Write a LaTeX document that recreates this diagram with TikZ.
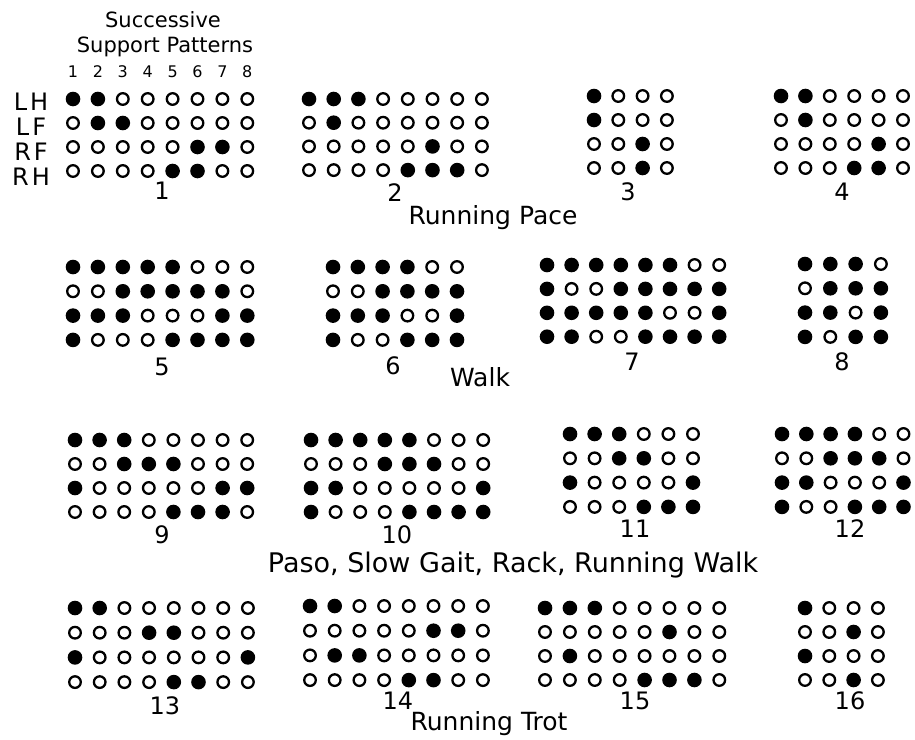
\documentclass[tikz,border=0pt]{standalone}
\usepackage{fontspec}
\setmainfont{DejaVu Sans}
\usetikzlibrary{positioning}

% one block of footfall dots: name, x0, y0, dx, dy, rows (LH,LF,RF,RH)
\newcommand{\gaitpanel}[6]{%
  \foreach \rowbits [count=\r] in {#6} {
    \foreach \b [count=\c] in \rowbits {
      \node[foot\b] (#1-\r-\c) at ({#2+(\c-1)*#4},{#3+(\r-1)*#5}) {};
    }
  }%
}

\begin{document}
\begin{tikzpicture}[
    x=1pt, y=-1pt,
    foot1/.style={circle, fill=black, inner sep=0pt, minimum size=14.6pt},
    foot0/.style={circle, draw=black, line width=2.3pt, inner sep=0pt,
                  minimum size=11.6pt},
    num/.style={font=\fontsize{24}{24}\selectfont, inner sep=0pt},
    colnum/.style={font=\fontsize{16}{16}\selectfont, inner sep=0pt},
    leg/.style={font=\fontsize{24}{24}\selectfont, inner sep=0pt},
    head/.style={font=\fontsize{21}{21}\selectfont, inner sep=0pt},
    gait/.style={font=\fontsize{25}{25}\selectfont, inner sep=0pt},
]
\useasboundingbox (0,0) rectangle (915,739);

% Heading and legend
\node[head] (succ) at (163,20) {Successive};
\node[head] (supp) at (165,47) {Support Patterns};
\foreach \i in {1,...,8}
  \node[colnum] (c\i) at ({73+(\i-1)*24.9},72) {\i};
\node[leg] (lh) at (31,102) {L\kern3pt H};
\node[leg] (lf) at (31,127) {L\kern3pt F};
\node[leg] (rf) at (31,152) {R\kern3pt F};
\node[leg] (rh) at (31,177) {R\kern3pt H};

% Running pace
\gaitpanel{p1}{73}{99}{24.9}{24.0}{{1,1,0,0,0,0,0,0},{0,1,1,0,0,0,0,0},{0,0,0,0,0,1,1,0},{0,0,0,0,1,1,0,0}}
\gaitpanel{p2}{309}{99}{24.7}{23.7}{{1,1,1,0,0,0,0,0},{0,1,0,0,0,0,0,0},{0,0,0,0,0,1,0,0},{0,0,0,0,1,1,1,0}}
\gaitpanel{p3}{594}{96}{24.3}{24.0}{{1,0,0,0},{1,0,0,0},{0,0,1,0},{0,0,1,0}}
\gaitpanel{p4}{781}{96}{24.4}{24.0}{{1,1,0,0,0,0},{0,1,0,0,0,0},{0,0,0,0,1,0},{0,0,0,1,1,0}}
\node[num] (n1) at (162,191) {1};
\node[num] (n2) at (395,193) {2};
\node[num] (n3) at (628,192) {3};
\node[num] (n4) at (842,192) {4};
\node[gait] (pace) at (493,218) {Running Pace};

% Walk
\gaitpanel{p5}{73}{267}{24.9}{24.3}{{1,1,1,1,1,0,0,0},{0,0,1,1,1,1,1,0},{1,1,1,0,0,0,1,1},{1,0,0,0,1,1,1,1}}
\gaitpanel{p6}{333}{267}{24.8}{24.3}{{1,1,1,1,0,0},{0,0,1,1,1,1},{1,1,1,0,0,1},{1,0,0,1,1,1}}
\gaitpanel{p7}{547}{265}{24.6}{23.9}{{1,1,1,1,1,1,0,0},{1,0,0,1,1,1,1,1},{1,1,1,1,1,0,0,1},{1,1,0,0,1,1,1,1}}
\gaitpanel{p8}{805}{264}{25.3}{24.3}{{1,1,1,0},{0,1,1,1},{1,1,0,1},{1,0,1,1}}
\node[num] (n5) at (162,367) {5};
\node[num] (n6) at (393,366) {6};
\node[num] (n7) at (632,362) {7};
\node[num] (n8) at (842,362) {8};
\node[gait] (walk) at (480,377) {Walk};

% Paso, slow gait, rack, running walk
\gaitpanel{p9}{75}{440}{24.6}{24.0}{{1,1,1,0,0,0,0,0},{0,0,1,1,1,0,0,0},{1,0,0,0,0,0,1,1},{0,0,0,0,1,1,1,0}}
\gaitpanel{p10}{311}{440}{24.6}{24.0}{{1,1,1,1,1,0,0,0},{0,0,0,1,1,1,0,0},{1,1,0,0,0,0,0,1},{1,0,0,0,1,1,1,1}}
\gaitpanel{p11}{570}{434}{24.6}{24.3}{{1,1,1,0,0,0},{0,0,1,1,0,0},{1,0,0,0,0,1},{0,0,0,1,1,1}}
\gaitpanel{p12}{782}{434}{24.3}{24.3}{{1,1,1,1,0,0},{0,0,1,1,1,0},{1,1,0,0,0,1},{1,0,0,1,1,1}}
\node[num] (n9) at (162,535) {9};
\node[num] (n10) at (397,535) {10};
\node[num] (n11) at (635,529) {11};
\node[num] (n12) at (850,529) {12};
\node[gait, font=\fontsize{27}{27}\selectfont] (paso) at (513,565)
     {Paso, Slow Gait, Rack, Running Walk};

% Running trot
\gaitpanel{p13}{75}{608}{24.7}{24.7}{{1,1,0,0,0,0,0,0},{0,0,0,1,1,0,0,0},{1,0,0,0,0,0,0,1},{0,0,0,0,1,1,0,0}}
\gaitpanel{p14}{310}{606}{24.7}{24.7}{{1,1,0,0,0,0,0,0},{0,0,0,0,0,1,1,0},{0,1,1,0,0,0,0,0},{0,0,0,0,1,1,0,0}}
\gaitpanel{p15}{545}{608}{24.9}{24.0}{{1,1,1,0,0,0,0,0},{0,0,0,0,0,1,0,0},{0,1,0,0,0,0,0,0},{0,0,0,0,1,1,1,0}}
\gaitpanel{p16}{805}{608}{24.3}{24.0}{{1,0,0,0},{0,0,1,0},{1,0,0,0},{0,0,1,0}}
\node[num] (n13) at (165,706) {13};
\node[num] (n14) at (398,701) {14};
\node[num] (n15) at (635,701) {15};
\node[num] (n16) at (850,701) {16};
\node[gait] (trot) at (489,724) {Running Trot};
\end{tikzpicture}
\end{document}
